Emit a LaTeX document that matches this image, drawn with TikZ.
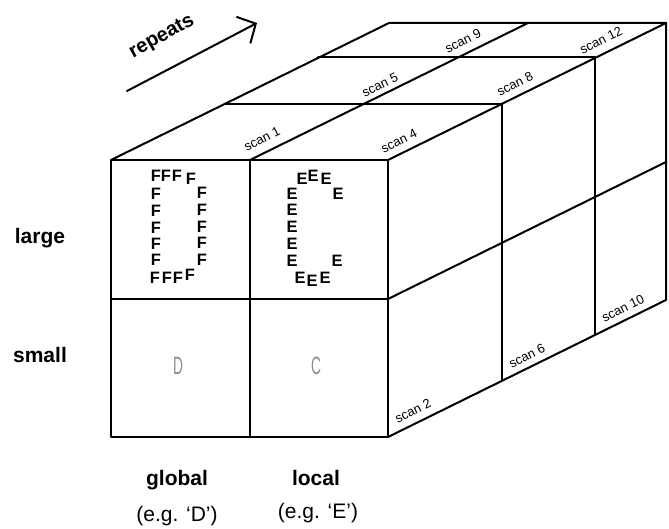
\documentclass[tikz,border=0pt]{standalone}
\usepackage{fontspec}
\setmainfont{Liberation Sans}
\usetikzlibrary{arrows.meta}
\begin{document}
\begin{tikzpicture}[x=1pt,y=-1pt,
  edge/.style={line width=2pt, line join=round, line cap=round},
  scanlbl/.style={font=\fontsize{13}{14}\selectfont, rotate=26.3, inner sep=0},
  bigletter/.style={font=\bfseries\fontsize{16.5}{17}\selectfont, inner sep=0},
  axislbl/.style={font=\bfseries\fontsize{21}{22}\selectfont, inner sep=0, anchor=base},
  examplelbl/.style={font=\fontsize{21}{22}\selectfont, inner sep=0, anchor=base},
  ghost/.style={font=\fontsize{25}{25}\selectfont, text=black!45, inner sep=0}
]
\useasboundingbox (0,0) rectangle (669,529);
% front face corners
\coordinate (FTL) at (111,160);
\coordinate (FTM) at (250,160);
\coordinate (FTR) at (388,160);
\coordinate (FML) at (111,299);
\coordinate (FMR) at (388,299);
\coordinate (FBL) at (111,437);
\coordinate (FBM) at (250,437);
\coordinate (FBR) at (388,437);
% back corners
\coordinate (BTL) at (389,23);
\coordinate (BTM) at (528,23);
\coordinate (BTR) at (666,23);
\coordinate (BMR) at (666,162);
\coordinate (BBR) at (666,300);
% depth slices
\coordinate (T1L) at (225,104);
\coordinate (T1R) at (502,104);
\coordinate (T2L) at (318,57);
\coordinate (T2R) at (595,57);
\coordinate (R1B) at (502,381);
\coordinate (R2B) at (595,334);

% front face
\draw[edge] (FTL) rectangle (FBR);
\draw[edge] (FTM) -- (FBM);
\draw[edge] (FML) -- (FMR);
% top face
\draw[edge] (FTL) -- (BTL) -- (BTR) -- (FTR);
\draw[edge] (FTM) -- (BTM);
\draw[edge] (T1L) -- (T1R);
\draw[edge] (T2L) -- (T2R);
% right face
\draw[edge] (BTR) -- (BBR) -- (FBR);
\draw[edge] (FMR) -- (BMR);
\draw[edge] (T1R) -- (R1B);
\draw[edge] (T2R) -- (R2B);

% scan labels
\node[scanlbl] (s1) at (262,139) {scan 1};
\node[scanlbl] (s5) at (380,85) {scan 5};
\node[scanlbl] (s9) at (463,41) {scan 9};
\node[scanlbl] (s4) at (399,141) {scan 4};
\node[scanlbl] (s8) at (515,84) {scan 8};
\node[scanlbl] (s12) at (601,40) {scan 12};
\node[scanlbl] (s2) at (413,411) {scan 2};
\node[scanlbl] (s6) at (527,356) {scan 6};
\node[scanlbl] (s10) at (623,308) {scan 10};

% repeats arrow
\coordinate (arrS) at (127,91);
\coordinate (arrE) at (257,23);
\draw[line width=2pt, line cap=round, -{Straight Barb[length=14pt,width=30pt,line width=2pt]}] (arrS) -- (arrE);
\node[font=\bfseries\fontsize{20}{21}\selectfont, rotate=29, inner sep=0] (rep) at (162,37) {repeats};

% big D made of F
\foreach \x/\y [count=\i] in {156/176,166/176,177/176,191/179,
  156/194,156/211,156/228,156/244,156/260,
  202/193,202/210,202/227,202/243,202/260,
  155/278,167/278,178/278,190/275}
  \node[bigletter] (f\i) at (\x,\y) {F};
% big C made of E
\foreach \x/\y [count=\i] in {302/179,313/176,326/179,338/194,
  292/194,292/210,292/227,292/244,292/261,
  337/261,300/278,312/281,325/278}
  \node[bigletter] (e\i) at (\x,\y) {E};

% small letters
\node[ghost] (smallD) at (178,366) {\scalebox{0.55}[1]{D}};
\node[ghost] (smallC) at (316,366) {\scalebox{0.55}[1]{C}};

% axis labels
\node[axislbl] (large) at (40,244) {large};
\node[axislbl] (small) at (40,362) {small};
\node[axislbl] (global) at (177,485) {global};
\node[axislbl] (local) at (316,485) {local};
\node[examplelbl] (egD) at (177,521) {(e.g. ‘D’)};
\node[examplelbl] (egE) at (318,518) {(e.g. ‘E’)};
\end{tikzpicture}
\end{document}
